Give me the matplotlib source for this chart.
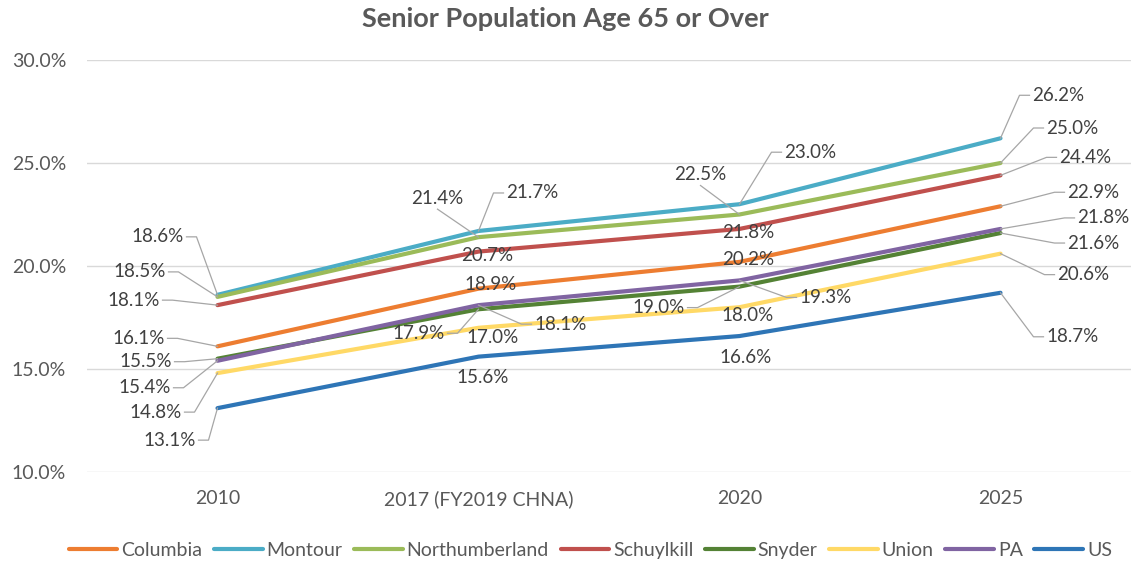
import numpy as np
import matplotlib.pyplot as plt
from matplotlib.lines import Line2D
from matplotlib.transforms import IdentityTransform

plt.rcParams['font.family'] = ['Lato', 'DejaVu Sans']

years = ['2010', '2017 (FY2019 CHNA)', '2020', '2025']
columbia = [16.1, 18.9, 20.2, 22.9]
montour = [18.6, 21.7, 23.0, 26.2]
northumberland = [18.5, 21.4, 22.5, 25.0]
schuylkill = [18.1, 20.7, 21.8, 24.4]
snyder = [15.5, 17.9, 19.0, 21.6]
union = [14.8, 17.0, 18.0, 20.6]
pa = [15.4, 18.1, 19.3, 21.8]
us = [13.1, 15.6, 16.6, 18.7]

names = ['Columbia', 'Montour', 'Northumberland', 'Schuylkill', 'Snyder', 'Union', 'PA', 'US']
series = [columbia, montour, northumberland, schuylkill, snyder, union, pa, us]
colors = ['#ED7D31', '#4BACC6', '#9BBB59', '#C0504D', '#548235', '#FFD966', '#8064A2', '#2E75B6']

# label offsets in image pixels (dx right, dy down) and leader type, per series per year
offs = {
    'Columbia':       [(-79, -8, 's'), (12, -4, 'n'), (9, -2, 'n'), (93, -14, 's')],
    'Montour':        [(-60, -58, 's'), (54, -38, 's'), (71, -52, 's'), (58, -43, 's')],
    'Northumberland': [(-78, -25, 's'), (-41, -39, 'b'), (-39, -40, 'b'), (72, -35, 's')],
    'Schuylkill':     [(-84, -5, 's'), (9, 4, 'n'), (9, 4, 'n'), (85, -18, 's')],
    'Snyder':         [(-72, 3, 's'), (-60, 24, 's'), (-81, 21, 's'), (93, 10, 's')],
    'Union':          [(-62, 39, 's'), (14, 10, 'n'), (8, 8, 'n'), (83, 21, 's')],
    'PA':             [(-73, 27, 's'), (82, 19, 's'), (86, 17, 's'), (103, -11, 's')],
    'US':             [(-48, 32, 's'), (4, 21, 'n'), (6, 21, 'n'), (72, 44, 's')],
}

grey = '#595959'
fig = plt.figure(figsize=(11.31, 5.61), dpi=100)
ax = fig.add_axes([87/1131, 1 - 472/561, 1 - 87/1131, (472 - 60)/561])

x = np.arange(len(years))
for n, s, c in zip(names, series, colors):
    ax.plot(x, s, color=c, lw=3, label=n, solid_capstyle='round', zorder=3)

ax.set_xlim(-0.5, len(years) - 0.5)
ax.set_ylim(10, 30)
ax.set_yticks([10, 15, 20, 25, 30])
ax.set_yticklabels(['%.1f%%' % t for t in [10, 15, 20, 25, 30]])
ax.set_xticks(x)
ax.set_xticklabels(years)
ax.tick_params(length=0, labelsize=14, colors=grey)
ax.tick_params(axis='x', pad=13)
ax.tick_params(axis='y', pad=15)
ax.grid(axis='y', color='#D9D9D9', lw=1)
ax.set_axisbelow(True)
for sp in ax.spines.values():
    sp.set_visible(False)

fig.text(0.5, 1 - 19/561, 'Senior Population Age 65 or Over', ha='center', va='center',
         fontsize=19.5, fontweight='bold', color=grey)

hw, hh = 26, 8
for n, s in zip(names, series):
    for i, v in enumerate(s):
        dx, dy, kind = offs[n][i]
        px, py = ax.transData.transform((i, v))
        cx, cy = px + dx, py - dy
        ax.annotate('%.1f%%' % v, xy=(i, v), xytext=(dx, -dy), textcoords='offset pixels',
                    ha='center', va='center', fontsize=13.5, color='#404040', zorder=4)
        if kind == 's':
            if dx < 0:
                edge, knee = cx + hw + 3, cx + hw + 13
            else:
                edge, knee = cx - hw - 3, cx - hw - 13
            xs, ys = [px, knee, edge], [py, cy, cy]
        elif kind == 'b':
            xs, ys = [px, cx], [py, cy - hh - 3]
        else:
            continue
        fig.add_artist(Line2D(xs, ys, transform=IdentityTransform(), color='#A6A6A6', lw=0.9))

fig.legend(loc='lower center', bbox_to_anchor=(0.522, -0.028), ncol=8, frameon=False,
           fontsize=14, handlelength=2.5, handletextpad=0.2, columnspacing=0.6,
           labelcolor=grey)

fig.savefig('out.png', dpi=100)
